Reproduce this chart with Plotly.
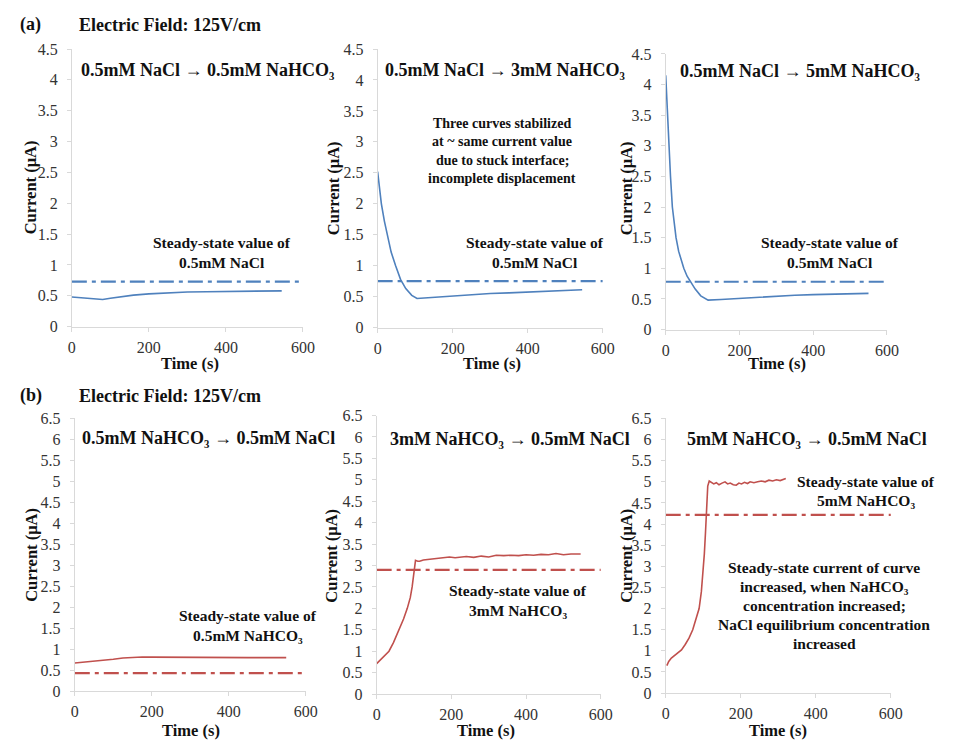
import plotly.graph_objects as go

# ---------------- data ----------------
a1_t = [0, 20, 40, 60, 80, 100, 130, 160, 200, 250, 300, 350, 400, 450, 500, 545]
a1_i = [0.48, 0.47, 0.46, 0.45, 0.44, 0.46, 0.49, 0.51, 0.53, 0.55, 0.56, 0.565, 0.57, 0.572, 0.575, 0.58]

a2_t = [0, 5, 10, 18, 26, 36, 48, 61, 75, 91, 105, 150, 200, 250, 300, 350, 400, 450, 500, 545]
a2_i = [2.52, 2.25, 2.0, 1.72, 1.5, 1.22, 1.0, 0.78, 0.63, 0.52, 0.47, 0.49, 0.51, 0.53, 0.55, 0.56, 0.575, 0.59, 0.60, 0.61]

a3_t = [0, 3, 6, 9, 13, 18, 23, 28, 35, 42, 49, 58, 67, 80, 95, 107, 115, 150, 200, 250, 300, 350, 400, 450, 500, 550]
a3_i = [4.15, 3.7, 3.3, 3.0, 2.5, 2.0, 1.72, 1.5, 1.28, 1.12, 1.0, 0.87, 0.78, 0.66, 0.55, 0.5, 0.48, 0.49, 0.51, 0.53, 0.55, 0.56, 0.57, 0.58, 0.585, 0.59]

b1_t = [0, 25, 50, 75, 100, 125, 150, 160, 175, 200, 250, 300, 350, 400, 450, 500, 549]
b1_i = [0.67, 0.69, 0.71, 0.74, 0.76, 0.79, 0.81, 0.82, 0.815, 0.81, 0.805, 0.81, 0.8, 0.805, 0.8, 0.8, 0.8]

b2_t = [0, 10, 20, 33, 45, 60, 72, 82, 90, 95, 99, 101, 104, 110, 115, 125, 135, 150, 165, 180, 195,
        210, 225, 240, 260, 280, 300, 320, 340, 360, 380, 400, 420, 440, 460, 480, 500, 520, 546]
b2_i = [0.71, 0.8, 0.88, 1.0, 1.2, 1.5, 1.75, 2.0, 2.25, 2.5, 2.8, 3.0, 3.12, 3.1, 3.1, 3.13, 3.14, 3.15,
        3.16, 3.17, 3.2, 3.18, 3.2, 3.21, 3.19, 3.22, 3.2, 3.24, 3.23, 3.24, 3.23, 3.25, 3.24, 3.26, 3.25,
        3.28, 3.25, 3.27, 3.27]

b3_t = [3, 8, 15, 25, 35, 42, 52, 62, 72, 80, 89, 95, 99, 103, 106, 108, 110, 112, 116, 122, 128, 135,
        142, 150, 158, 165, 172, 180, 188, 195, 202, 210, 218, 225, 235, 245, 255, 265, 275, 285, 295,
        305, 312, 320]
b3_i = [0.65, 0.75, 0.83, 0.9, 0.97, 1.02, 1.15, 1.3, 1.5, 1.72, 2.0, 2.4, 2.8, 3.3, 3.8, 4.2, 4.6, 4.9,
        5.02, 4.98, 4.95, 4.98, 4.93, 4.97, 5.0, 4.95, 4.97, 4.93, 4.92, 4.97, 4.95, 4.99, 4.96, 5.0, 4.98,
        5.0, 5.02, 5.0, 5.04, 5.02, 5.05, 5.03, 5.06, 5.08]

steady_t = [0, 600]
steady_a = [0.73, 0.75, 0.78]
steady_b = [0.43, 2.9, 4.22]

x_ticks = [0, 200, 400, 600]

BLUE = "#4F81BD"
RED = "#C0504D"
FONT = "'Times New Roman', 'Liberation Serif', Times, serif"
W, H = 954, 749

# panel pixel boxes: (x0, x1, ytop, ybottom)
boxes = [
    (69, 304, 42, 326),
    (380, 609, 42, 327),
    (673, 898, 47, 329),
    (72, 307, 420, 699),
    (379, 607, 417, 702),
    (673, 902, 420, 701),
]

curves = [(a1_t, a1_i, BLUE), (a2_t, a2_i, BLUE), (a3_t, a3_i, BLUE),
          (b1_t, b1_i, RED), (b2_t, b2_i, RED), (b3_t, b3_i, RED)]
steadies = steady_a + steady_b

fig = go.Figure()
layout = dict(width=W, height=H, margin=dict(l=0, r=0, t=0, b=0),
              paper_bgcolor="white", plot_bgcolor="white", showlegend=False,
              font=dict(family=FONT, size=15))

for k, ((x0, x1, yt, yb), (t, cur, col), sv) in enumerate(zip(boxes, curves, steadies)):
    n = k + 1
    xa = "x" if n == 1 else f"x{n}"
    ya = "y" if n == 1 else f"y{n}"
    fig.add_trace(go.Scatter(x=steady_t, y=[sv, sv], mode="lines", xaxis=xa, yaxis=ya,
                             line=dict(color=col, width=2.2, dash="15px,5px,4px,5px")))
    fig.add_trace(go.Scatter(x=t, y=cur, mode="lines", xaxis=xa, yaxis=ya,
                             line=dict(color=col, width=1.6)))
    top = k < 3
    axis_common = dict(showline=True, linecolor="#d9d9d9", linewidth=1, ticks="outside",
                       ticklen=4, tickcolor="#d9d9d9", showgrid=False, zeroline=False,
                       tickfont=dict(family=FONT, size=16, color="#333333"))
    layout["xaxis" if n == 1 else f"xaxis{n}"] = dict(
        domain=[x0 / W, x1 / W], range=[0, 600], tickvals=x_ticks,
        anchor=ya, ticklabelstandoff=2, **axis_common)
    layout["yaxis" if n == 1 else f"yaxis{n}"] = dict(
        domain=[1 - yb / H, 1 - yt / H], range=[0, 4.5 if top else 6.5], dtick=0.5,
        anchor=xa, ticklabelstandoff=6, **axis_common)

fig.update_layout(**layout)


def txt(x, y, s, size=13, bold=True, angle=0, xanchor="center"):
    fig.add_annotation(x=x / W, y=1 - y / H, xref="paper", yref="paper", text=f"<b>{s}</b>" if bold else s,
                       showarrow=False, textangle=angle, xanchor=xanchor, yanchor="middle",
                       font=dict(family=FONT, size=size, color="#111111"))


# headers
txt(14, 17, "(a)", size=18, xanchor="left")
txt(74, 17, "Electric Field: 125V/cm", size=18, xanchor="left")
txt(14, 397, "(b)", size=18, xanchor="left")
txt(74, 397, "Electric Field: 125V/cm", size=18, xanchor="left")

# panel titles
TS = 18
txt(207, 63, "0.5mM NaCl → 0.5mM NaHCO₃", size=TS)
txt(510, 63, "0.5mM NaCl → 3mM NaHCO₃", size=TS)
txt(810, 64, "0.5mM NaCl → 5mM NaHCO₃", size=TS)
txt(208, 440, "0.5mM NaHCO₃ → 0.5mM NaCl", size=TS)
txt(515, 441, "3mM NaHCO₃ → 0.5mM NaCl", size=TS)
txt(817, 441, "5mM NaHCO₃ → 0.5mM NaCl", size=TS)

# steady-state notes
NS = 15.5
for cx, y1, l2 in [(222, 240, "0.5mM NaCl"), (540, 240, "0.5mM NaCl"), (840, 240, "0.5mM NaCl"),
                   (248, 622, "0.5mM NaHCO₃"), (523, 596, "3mM NaHCO₃"),
                   (877, 484, "5mM NaHCO₃")]:
    txt(cx, y1, "Steady-state value of", size=NS)
    txt(cx, y1 + 20, l2, size=NS)

for i, line in enumerate(["Three curves stabilized", "at ~ same current value",
                          "due to stuck interface;", "incomplete displacement"]):
    txt(507, 118 + i * 18.8, line, size=14)

for i, line in enumerate(["Steady-state current of curve", "increased, when NaHCO₃",
                          "concentration increased;", "NaCl equilibrium concentration",
                          "increased"]):
    txt(834, 573 + i * 19.2, line, size=NS)

# axis titles
AS = 16.5
for cx in [27, 335, 633]:
    txt(cx, 184, "Current (μA)", size=AS, angle=-90)
for cx in [28, 333, 633]:
    txt(cx, 560, "Current (μA)", size=AS, angle=-90)
for cx in [189, 496, 786]:
    txt(cx, 364, "Time (s)", size=AS)
for cx in [190, 490, 787]:
    txt(cx, 739, "Time (s)", size=AS)

fig.write_html("out.html")
